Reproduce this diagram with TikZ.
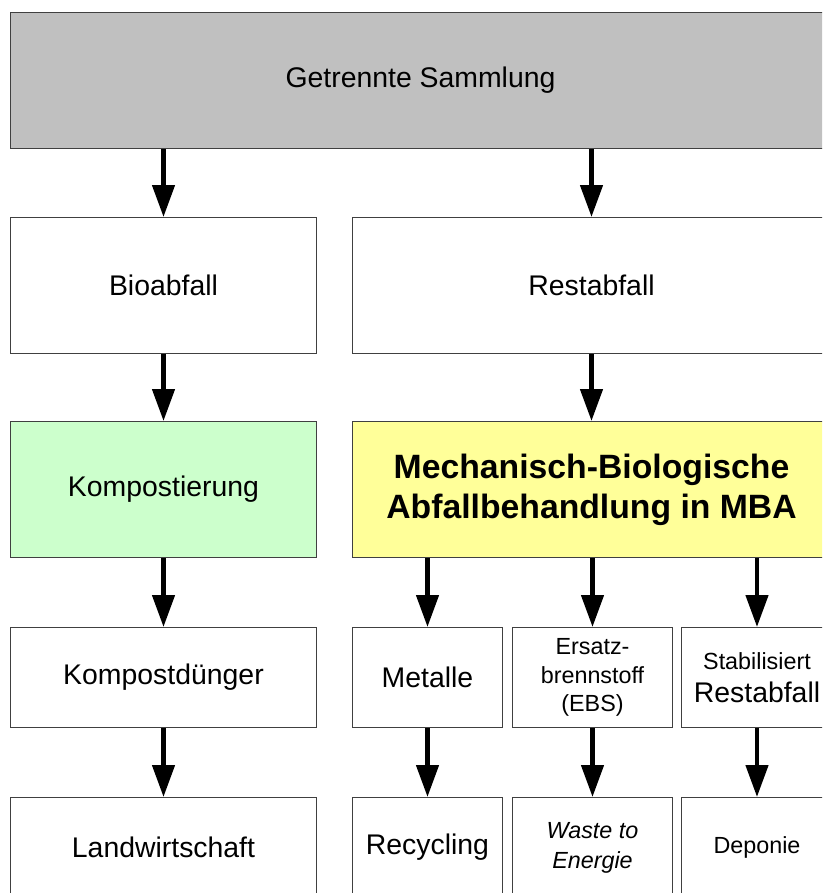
\documentclass[tikz,border=0pt]{standalone}
\usepackage{fontspec}
\setmainfont{Liberation Sans}
\usetikzlibrary{positioning,arrows.meta}

\definecolor{sammelgrau}{RGB}{192,192,192}
\definecolor{kompostgruen}{RGB}{204,255,204}
\definecolor{mbagelb}{RGB}{255,255,153}

\begin{document}
\begin{tikzpicture}[
      x=0.75pt, y=-0.75pt,
      nodes={
        draw=black!75, line width=0.75pt, fill=white, align=center,
        font=\fontsize{21.3}{25}\selectfont, inner sep=0pt
      },
      hoch/.style={minimum height=102pt},
      flach/.style={minimum height=75pt},
      klein/.style={font=\fontsize{17.5}{21.5}\selectfont},
      pfeil/.style={-{Triangle[width=16.5pt,length=24pt]}, line width=3.4pt}
      ]

  \useasboundingbox (0,0) rectangle (822,893);
  \clip (0,0) rectangle (822,893);

	  \node[hoch, fill=sammelgrau, minimum width=615pt, anchor=north west] (samml) at (10,12) {Getrennte Sammlung};
	  \node[hoch, minimum width=229.5pt, below = 51pt of samml.south west, anchor=north west] (bio) {Bioabfall};
	  \node[hoch, minimum width=358.5pt, right = 26.25pt of bio] (rest) {Restabfall};
	  \node[hoch, fill=kompostgruen, minimum width=229.5pt, below = 50.25pt of bio] (kompost) {Kompostierung};
	  \node[hoch, fill=mbagelb, minimum width=358.5pt, below = 50.25pt of rest,
	        font=\bfseries\fontsize{25.3}{30}\selectfont] (mba) {Mechanisch-Biologische\\Abfallbehandlung in MBA};
	  \node[flach, minimum width=229.5pt, below = 51.75pt of kompost] (duenger) {Kompostdünger};
	  \node[flach, minimum width=112.5pt, below = 51.75pt of mba.south west, anchor=north west] (metalle) {Metalle};
	  \node[flach, klein, minimum width=120pt, right = 6.75pt of metalle] (ebs) {Ersatz-\\brennstoff\\(EBS)};
	  \node[flach, minimum width=113.25pt, right = 6pt of ebs] (stabil)
	        {\fontsize{17.5}{22}\selectfont Stabilisiert\\\fontsize{21.3}{24}\selectfont Restabfall};
	  \node[flach, minimum width=229.5pt, below = 51.75pt of duenger] (landw) {Landwirtschaft};
	  \node[flach, minimum width=112.5pt, below = 51.75pt of metalle] (recyc) {Recycling};
	  \node[flach, minimum width=120pt, below = 51.75pt of ebs,
	        font=\itshape\fontsize{17.5}{22.5}\selectfont] (waste) {Waste to\\Energie};
	  \node[flach, klein, minimum width=113.25pt, below = 51.75pt of stabil] (depon) {Deponie};

  % Connect the nodes

  \draw[pfeil] (samml.south -| bio.north) -- (bio.north);
  \draw[pfeil] (samml.south -| rest.north) -- (rest.north);
  \draw[pfeil] (bio) -- (kompost);
  \draw[pfeil] (rest) -- (mba);
  \draw[pfeil] (kompost) -- (duenger);
  \draw[pfeil] (mba.south -| metalle.north) -- (metalle);
  \draw[pfeil] (mba.south -| ebs.north) -- (ebs);
  \draw[pfeil] (mba.south -| stabil.north) -- (stabil);
  \draw[pfeil] (duenger) -- (landw);
  \draw[pfeil] (metalle) -- (recyc);
  \draw[pfeil] (ebs) -- (waste);
  \draw[pfeil] (stabil) -- (depon);

\end{tikzpicture}
\end{document}
